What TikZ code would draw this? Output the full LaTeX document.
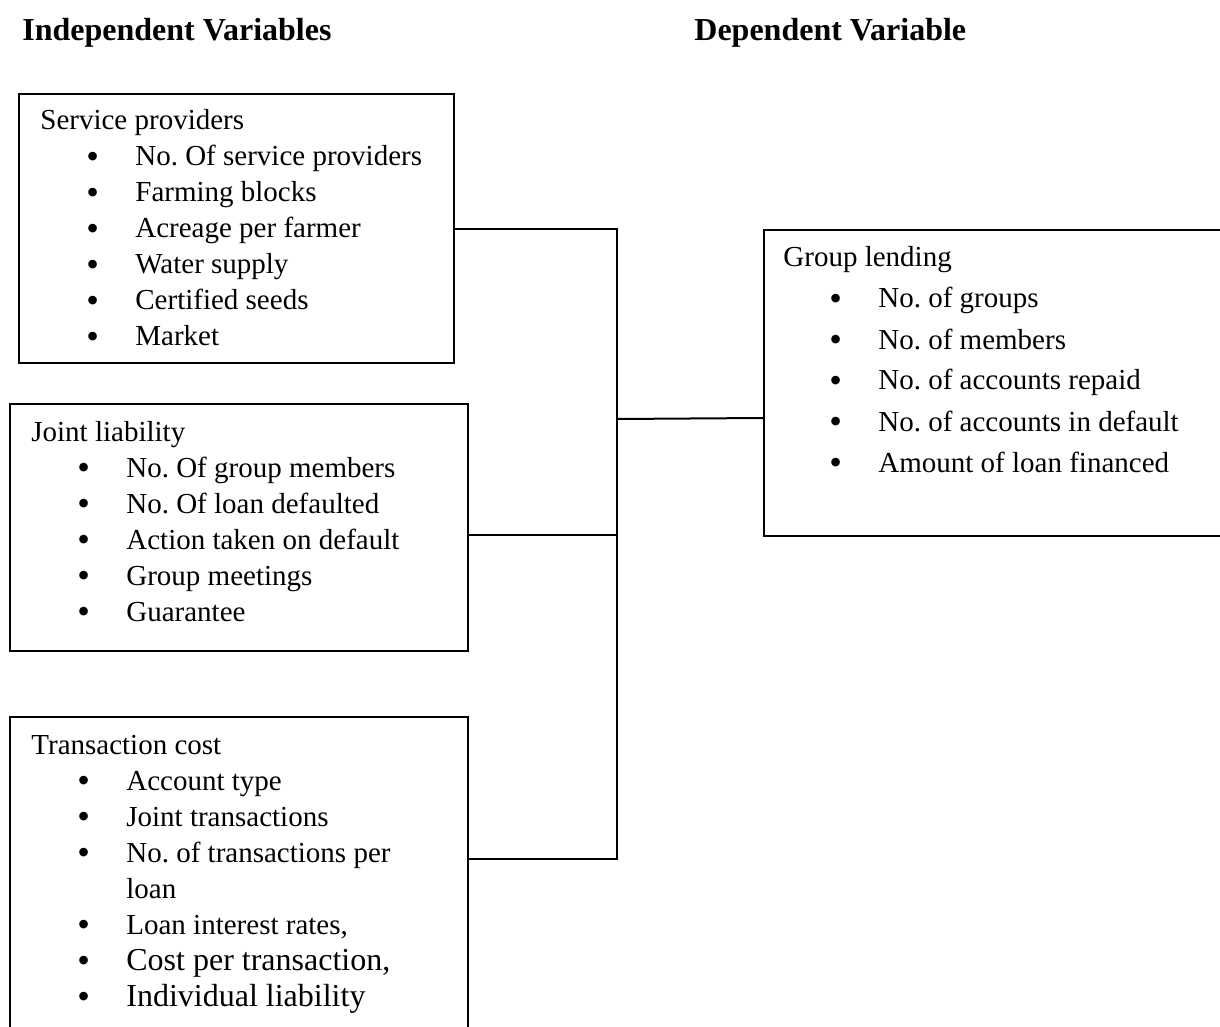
\documentclass[tikz,border=0pt]{standalone}
\usepackage{fontspec}
\setmainfont{Liberation Serif}
\frenchspacing
\newcommand{\itm}[1]{\hspace*{23pt}\makebox[24.5pt][l]{\raisebox{-1.15pt}{\fontsize{18}{18}\selectfont\textbullet}}#1}

\begin{document}
\begin{tikzpicture}[x=0.5pt, y=-0.5pt,
  box/.style={draw, line width=1pt, inner sep=0pt, anchor=north west},
  list/.style={anchor=base west, inner sep=0pt, font=\fontsize{14.5}{18}\selectfont},
  heading/.style={anchor=base west, inner sep=0pt, font=\fontsize{16}{19}\selectfont\bfseries},
  wire/.style={line width=1pt}]
  \clip (0,0) rectangle (1220,1027);

  \node[heading] (indep) at (22,41) {Independent Variables};
  \node[heading] (dep) at (694,41) {Dependent Variable};

  % boxes
  \node[box, minimum width=217.5pt, minimum height=134.5pt] (sp) at (18,93) {};
  \node[box, minimum width=229pt, minimum height=123.5pt] (jl) at (9,403) {};
  \node[box, minimum width=229pt, minimum height=164.5pt] (tc) at (9,716) {};
  \node[box, minimum width=238.5pt, minimum height=153pt] (gl) at (763,229) {};

  \node[list] (sptxt) at (40,130) {\begin{tabular}[t]{@{}l@{}}
    Service providers\\
    \itm{No. Of service providers}\\
    \itm{Farming blocks}\\
    \itm{Acreage per farmer}\\
    \itm{Water supply}\\
    \itm{Certified seeds}\\
    \itm{Market}
  \end{tabular}};
  \node[list] (jltxt) at (31,441) {\begin{tabular}[t]{@{}l@{}}
    Joint liability\\
    \itm{No. Of group members}\\
    \itm{No. Of loan defaulted}\\
    \itm{Action taken on default}\\
    \itm{Group meetings}\\
    \itm{Guarantee}
  \end{tabular}};
  \node[list] (tctxt) at (31,754) {\begin{tabular}[t]{@{}l@{}}
    Transaction cost\\
    \itm{Account type}\\
    \itm{Joint transactions}\\
    \itm{No. of transactions per}\\
    \hspace*{47.5pt}loan\\
    \itm{Loan interest rates,}\\
    \itm{\fontsize{16}{18}\selectfont Cost per transaction,}\\
    \itm{\fontsize{16}{18}\selectfont Individual liability}
  \end{tabular}};
  \node[list, font=\fontsize{14.5}{20.5}\selectfont] (gltxt) at (783,267) {\begin{tabular}[t]{@{}l@{}}
    Group lending\\
    \itm{No. of groups}\\
    \itm{No. of members}\\
    \itm{No. of accounts repaid}\\
    \itm{No. of accounts in default}\\
    \itm{Amount of loan financed}
  \end{tabular}};

  % connectors
  \coordinate (spineT) at (617,229);
  \coordinate (spineB) at (617,859);
  \coordinate (jlJ) at (617,535);
  \coordinate (glJ) at (617,419);
  \draw[wire] (sp.east |- spineT) -- (spineT) -- (spineB) -- (tc.east |- spineB);
  \draw[wire] (jl.east |- jlJ) -- (jlJ);
  \draw[wire] (glJ) -- ([yshift=-17.5pt]gl.west);
\end{tikzpicture}
\end{document}
